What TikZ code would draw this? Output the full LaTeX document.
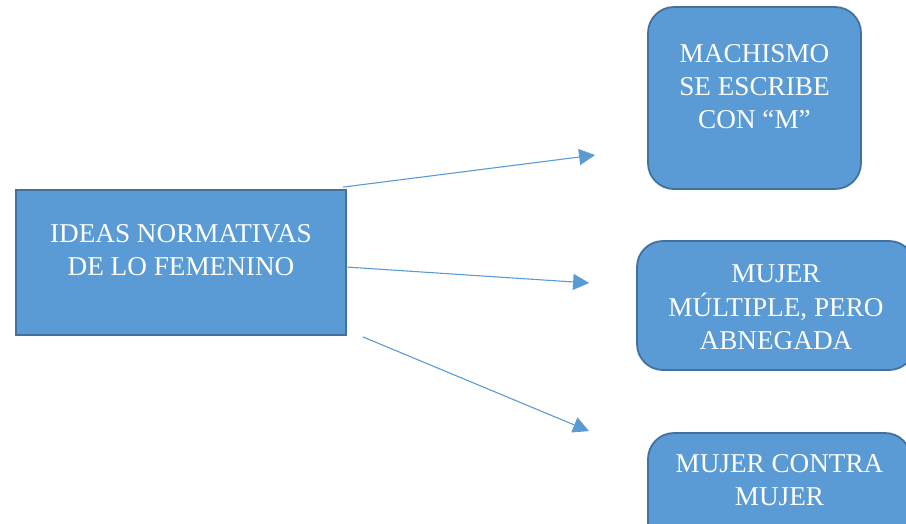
\documentclass[tikz,border=0pt]{standalone}
\usepackage{fontspec}
\setmainfont{Liberation Serif}
\usepackage{xcolor}
\usetikzlibrary{arrows.meta}
\definecolor{boxfill}{HTML}{5B9BD5}
\definecolor{boxline}{HTML}{41719C}
\newcommand{\boxtext}[4]{\parbox[c][#1][t]{#2}{\centering\vspace*{#3}\strut #4}}
\begin{document}
\begin{tikzpicture}[x=1pt,y=-1pt,
    idea/.style={draw=boxline, fill=boxfill, line width=1.8pt, inner sep=0pt,
        text=white, font=\fontsize{27.2}{33}\selectfont},
    rbox/.style={idea, rounded corners=26pt},
    link/.style={draw=boxfill, line width=1.1pt, -{Triangle[length=16pt,width=16pt]}}]
    \useasboundingbox (0,0) rectangle (906,523);
    \node[idea] (ideas) at (181,262.5)
        {\boxtext{145pt}{330pt}{29.5pt}{IDEAS NORMATIVAS\\DE LO FEMENINO}};
    \node[rbox] (machismo) at (754.5,98)
        {\boxtext{182pt}{213pt}{32.5pt}{MACHISMO\\SE ESCRIBE\\CON “M”}};
    \node[rbox] (multiple) at (776,305.5)
        {\boxtext{129pt}{278pt}{18.5pt}{MUJER\\MÚLTIPLE, PERO\\ABNEGADA}};
    \node[rbox] (contra) at (779.5,493)
        {\boxtext{120pt}{263pt}{16.5pt}{MUJER CONTRA\\MUJER}};
    % arrows
    \draw[link] ([shift={(-4,-2)}]ideas.north east) -- ([shift={(-52,57)}]machismo.west);
    \draw[link] ([shift={(-1,4.5)}]ideas.east) -- ([shift={(-47,-22.5)}]multiple.west);
    \draw[link] ([shift={(16,1)}]ideas.south east) -- ([shift={(-58,-1)}]contra.north west);
\end{tikzpicture}
\end{document}
